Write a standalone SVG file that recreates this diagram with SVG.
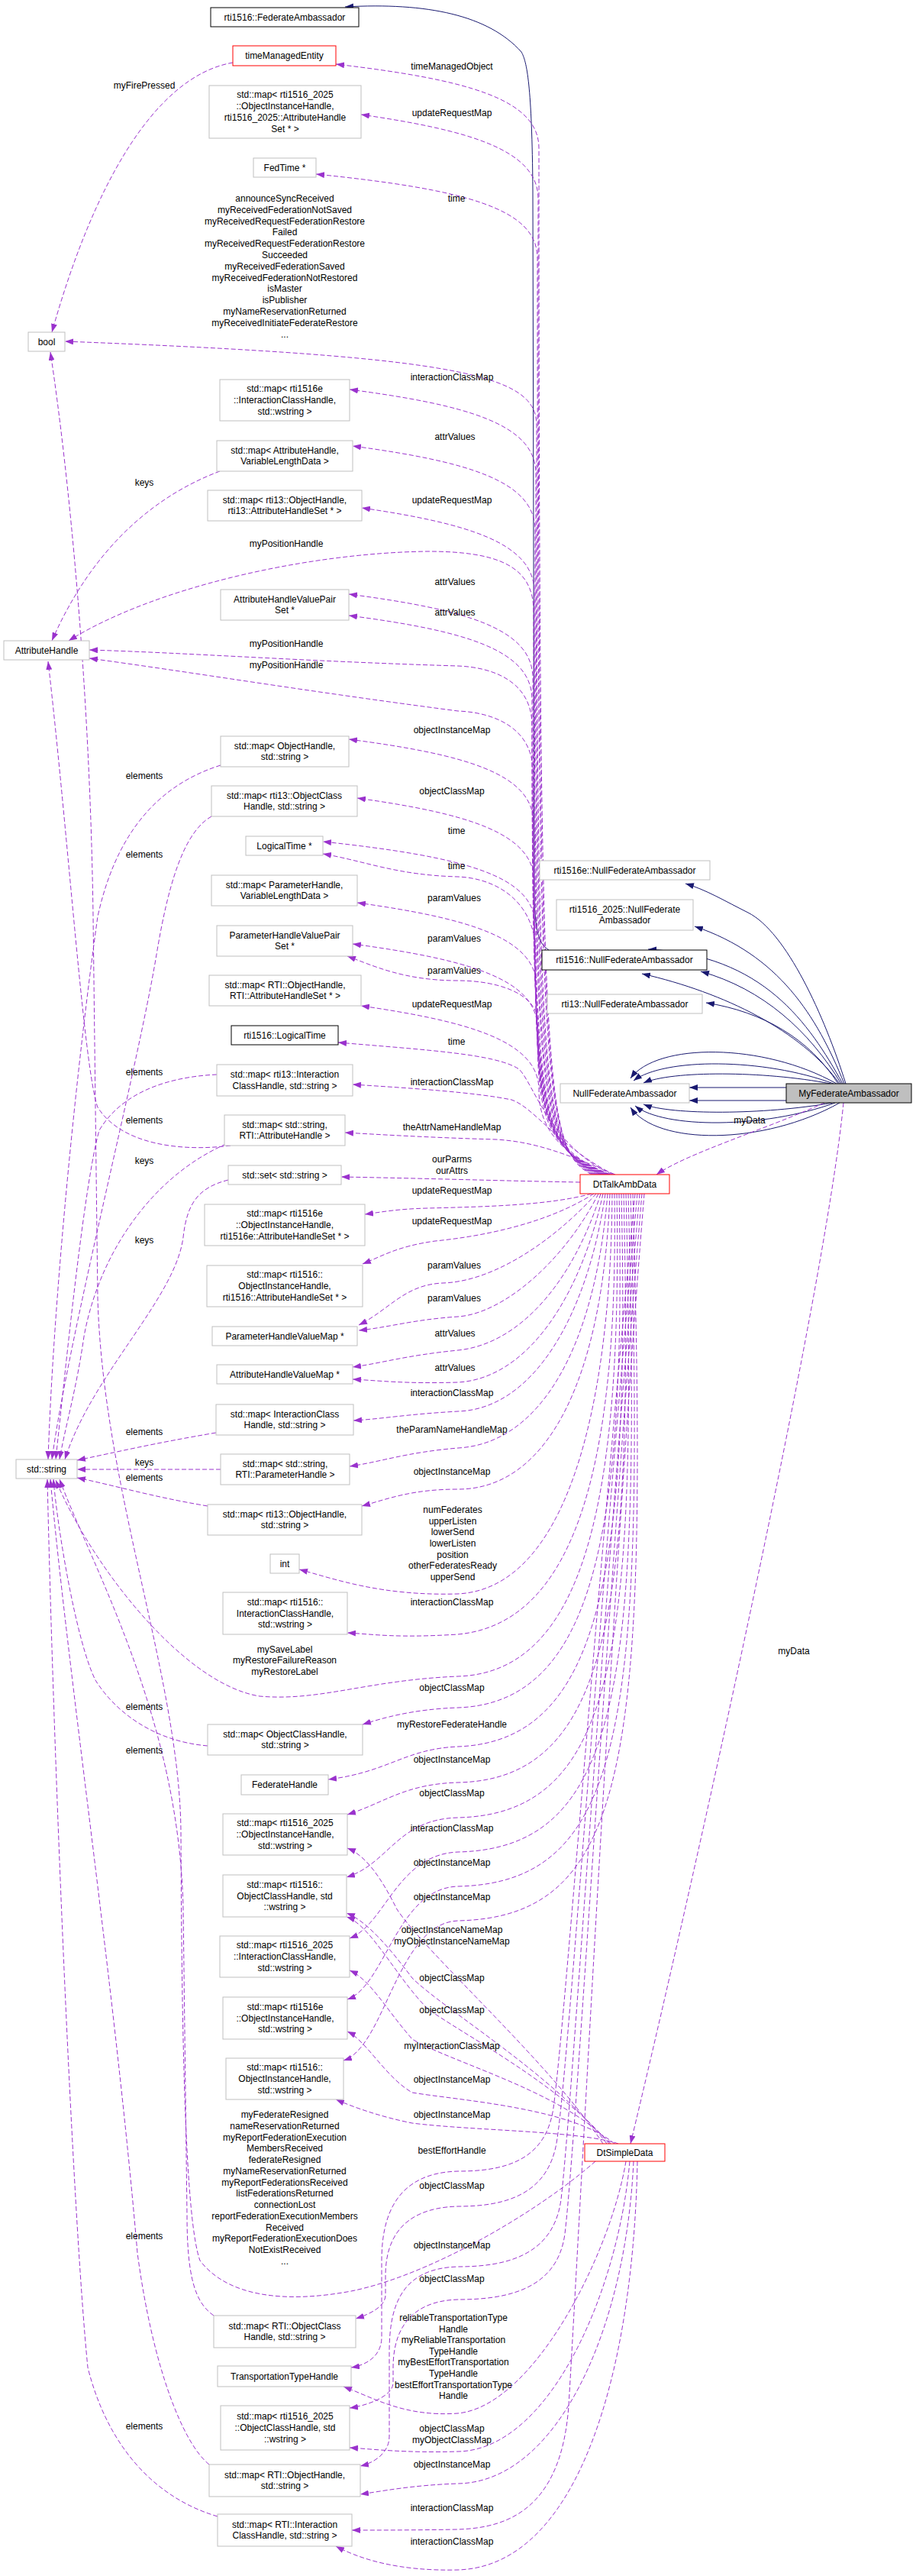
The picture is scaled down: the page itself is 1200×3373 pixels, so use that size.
<svg xmlns="http://www.w3.org/2000/svg" width="1200" height="3373" viewBox="0 0 1200 3373">
<style>
text{font-family:"Liberation Sans",Arial,sans-serif;font-size:12px;fill:#000;text-anchor:middle}
.b{fill:#fff;stroke:#bfbfbf;stroke-width:1}
.k{fill:#fff;stroke:#000;stroke-width:1}
.r{fill:#fff;stroke:#ff0000;stroke-width:1}
.g{fill:#bfbfbf;stroke:#000;stroke-width:1}
.u{fill:none;stroke:#9a32cd;stroke-width:1;stroke-dasharray:6,3;marker-end:url(#ap)}
.i{fill:none;stroke:#191970;stroke-width:1;marker-end:url(#an)}
</style>
<defs>
<marker id="ap" viewBox="0 0 11 8" refX="11" refY="4" markerWidth="11" markerHeight="8" markerUnits="userSpaceOnUse" orient="auto"><path d="M0,0 L11,4 L0,8 z" fill="#9a32cd"/></marker>
<marker id="an" viewBox="0 0 11 8" refX="11" refY="4" markerWidth="11" markerHeight="8" markerUnits="userSpaceOnUse" orient="auto"><path d="M0,0 L11,4 L0,8 z" fill="#191970"/></marker>
</defs>
<rect width="1200" height="3373" fill="#fff"/>
<g id="connectors">
<path class="i" d="M719 1244 C705 1235 702 1220 700 1180 L698 250 C697 110 690 80 683 68 C640 20 560 3 452 9"/>
<path class="i" d="M1108 1419 C1080 1330 1030 1220 980 1195 C950 1180 925 1165 898 1157"/>
<path class="i" d="M1106 1419 C1070 1330 1020 1250 910 1213"/>
<path class="i" d="M1104 1419 C1060 1340 1000 1250 849 1243"/>
<path class="i" d="M1102 1419 C1060 1350 1000 1295 918 1272"/>
<path class="i" d="M1100 1419 C1050 1350 950 1300 841 1275"/>
<path class="i" d="M1098 1419 C1060 1360 1000 1325 925 1313"/>
<path class="i" d="M1096 1419 C1000 1365 860 1365 826 1412"/>
<path class="i" d="M1092 1419 C1000 1385 870 1385 830 1415"/>
<path class="i" d="M1088 1419 C1000 1402 880 1402 843 1418"/>
<path class="i" d="M1030 1424 L903 1424"/>
<path class="i" d="M1030 1441 L903 1441"/>
<path class="i" d="M1090 1444 C1000 1460 880 1460 843 1446"/>
<path class="i" d="M1094 1444 C1000 1478 870 1478 832 1448"/>
<path class="i" d="M1100 1444 C1000 1500 860 1500 826 1450"/>
<path class="u" d="M1080 1444 C1000 1480 900 1510 860 1538"/>
<path class="u" d="M1105 1444 C1080 1700 900 2500 826 2807"/>
<path class="u" d="M305 82 C200 100 120 250 68 435"/>
<path class="u" d="M775 1538 C716 1505 706 1460 706 194 C706 129 610 104 440 84"/>
<path class="u" d="M777 1538 C715 1505 705 1460 705 260 C705 195 610 170 473 150"/>
<path class="u" d="M779 1538 C714 1505 704 1460 704 338 C704 273 610 248 414 228"/>
<path class="u" d="M781 1538 C713 1505 703 1460 703 557 C703 492 610 467 85 447"/>
<path class="u" d="M783 1538 C712 1505 702 1460 702 620 C702 555 610 530 458 510"/>
<path class="u" d="M785 1538 C711 1505 701 1460 701 694 C701 629 610 604 462 584"/>
<path class="u" d="M787 1538 C710 1505 700 1460 700 775 C700 710 610 685 474 665"/>
<path class="u" d="M788 1538 C709 1505 699 1460 699 800 C699 740 650 722 560 722 C400 724 200 770 90 839"/>
<path class="u" d="M789 1538 C708 1505 698 1460 698 888 C698 823 610 798 457 778"/>
<path class="u" d="M790 1538 C707 1505 697 1460 697 916 C697 851 610 826 457 806"/>
<path class="u" d="M791 1538 C707 1505 697 1460 697 950 C697 895 650 874 600 872 C400 866 250 855 117 851"/>
<path class="u" d="M792 1538 C708 1505 698 1460 698 1010 C698 955 650 933 600 931 C400 905 250 880 117 862"/>
<path class="u" d="M793 1538 C709 1505 699 1460 699 1078 C699 1013 610 988 457 968"/>
<path class="u" d="M794 1538 C710 1505 700 1460 700 1155 C700 1090 610 1065 468 1045"/>
<path class="u" d="M795 1538 C711 1505 701 1460 701 1212 C701 1147 610 1122 423 1102"/>
<path class="u" d="M796 1538 C712 1505 702 1460 702 1250 C702 1180 650 1150 600 1148 C520 1146 480 1128 423 1118"/>
<path class="u" d="M797 1538 C713 1505 703 1460 703 1292 C703 1227 610 1202 468 1182"/>
<path class="u" d="M798 1538 C714 1505 704 1460 704 1346 C704 1281 610 1256 462 1236"/>
<path class="u" d="M799 1538 C715 1505 705 1450 705 1340 C705 1300 650 1284 600 1284 C530 1284 490 1265 455 1252"/>
<path class="u" d="M800 1538 C716 1505 706 1460 706 1427 C706 1362 610 1337 473 1317"/>
<path class="u" d="M802 1538 C720 1500 700 1420 680 1400 C650 1380 560 1375 443 1365"/>
<path class="u" d="M804 1538 C730 1500 700 1450 670 1440 C620 1430 540 1425 462 1420"/>
<path class="u" d="M806 1538 C740 1510 700 1495 650 1492 C580 1490 520 1487 452 1483"/>
<path class="u" d="M760 1548 C650 1546 560 1543 447 1541"/>
<path class="u" d="M775 1563 C720 1578 640 1580 560 1582 C520 1583 500 1587 478 1590"/>
<path class="u" d="M778 1563 C720 1600 640 1618 570 1625 C520 1632 500 1645 475 1655"/>
<path class="u" d="M781 1563 C730 1620 650 1678 580 1680 C530 1682 510 1715 470 1735"/>
<path class="u" d="M784 1563 C740 1650 660 1720 600 1724 C540 1728 510 1738 470 1742"/>
<path class="u" d="M787 1563 C750 1680 680 1760 600 1768 C530 1775 500 1785 462 1790"/>
<path class="u" d="M790 1563 C760 1700 690 1805 600 1810 C530 1812 500 1808 462 1806"/>
<path class="u" d="M793 1563 C770 1720 700 1845 600 1848 C530 1852 500 1858 463 1860"/>
<path class="u" d="M796 1563 C780 1760 710 1890 600 1896 C530 1902 500 1914 458 1920"/>
<path class="u" d="M799 1563 C790 1800 720 1950 600 1950 C540 1950 510 1962 474 1972"/>
<path class="u" d="M802 1563 C800 1850 740 2080 600 2087 C500 2090 440 2068 392 2055"/>
<path class="u" d="M805 1563 C810 1900 760 2125 600 2140 C520 2145 490 2140 455 2138"/>
<path class="u" d="M808 1563 C815 1950 770 2190 600 2195 C480 2200 420 2228 340 2221 C240 2205 120 2050 73 1938"/>
<path class="u" d="M811 1563 C820 2000 780 2230 600 2236 C540 2238 500 2250 475 2258"/>
<path class="u" d="M814 1563 C825 2050 790 2280 600 2287 C530 2290 510 2320 430 2330"/>
<path class="u" d="M817 1563 C830 2100 800 2330 600 2334 C530 2336 505 2360 455 2376"/>
<path class="u" d="M820 1563 C835 2150 810 2375 600 2380 C520 2382 510 2440 454 2458"/>
<path class="u" d="M823 1563 C840 2200 815 2420 600 2425 C520 2428 505 2520 458 2538"/>
<path class="u" d="M826 1563 C845 2250 820 2465 600 2470 C520 2472 505 2600 455 2618"/>
<path class="u" d="M829 1563 C850 2300 825 2510 600 2515 C520 2518 505 2680 450 2698"/>
<path class="u" d="M832 1563 C780 2100 740 2650 725 2760 C715 2830 660 2843 600 2843 C520 2845 500 2900 500 2960 L500 3060 C500 3085 480 3097 460 3100"/>
<path class="u" d="M835 1563 C785 2100 745 2700 730 2800 C720 2875 660 2889 600 2889 C520 2891 505 2940 505 2980 L505 3005 C505 3020 485 3030 466 3036"/>
<path class="u" d="M838 1563 C790 2100 750 2750 735 2880 C725 2955 660 2968 600 2968 C525 2970 510 3020 510 3080 L510 3190 C510 3212 490 3225 472 3229"/>
<path class="u" d="M841 1563 C795 2100 755 2800 740 2925 C730 3000 660 3011 600 3011 C530 3013 515 3060 515 3100 L515 3120 C515 3138 480 3150 458 3153"/>
<path class="u" d="M844 1563 C800 2100 760 2900 745 3150 C735 3290 660 3310 600 3312 C540 3313 500 3313 461 3313"/>
<path class="u" d="M790 2807 C720 2700 560 2560 520 2500 C500 2460 480 2430 455 2420"/>
<path class="u" d="M795 2807 C730 2720 580 2630 540 2590 C510 2550 480 2515 454 2505"/>
<path class="u" d="M798 2807 C735 2730 600 2660 560 2630 C520 2590 485 2520 454 2510"/>
<path class="u" d="M800 2807 C740 2740 590 2700 540 2670 C505 2630 485 2592 458 2580"/>
<path class="u" d="M805 2807 C750 2760 600 2750 540 2740 C505 2720 480 2672 455 2660"/>
<path class="u" d="M810 2807 C760 2790 620 2790 540 2780 C500 2772 465 2760 440 2749"/>
<path class="u" d="M820 2830 C800 2950 700 3150 600 3160 C530 3165 490 3140 450 3125"/>
<path class="u" d="M825 2830 C810 3000 720 3208 600 3210 C530 3212 490 3207 458 3205"/>
<path class="u" d="M830 2830 C820 3050 730 3250 600 3252 C540 3254 500 3262 472 3266"/>
<path class="u" d="M835 2830 C830 3100 760 3360 600 3365 C520 3367 470 3350 440 3334"/>
<path class="u" d="M780 2830 C700 2900 560 2980 460 3000 C380 3015 300 3010 262 2960 C240 2900 238 2600 237 2400 C236 2200 135 1950 128 1700 L122 1200 C118 900 90 620 66 461"/>
<path class="u" d="M288 617 C200 650 120 720 68 839"/>
<path class="u" d="M302 1500 C240 1508 160 1500 128 1450 C110 1400 90 1100 63 866"/>
<path class="u" d="M289 1002 C200 1030 150 1100 128 1200 C100 1400 70 1700 63 1911"/>
<path class="u" d="M277 1069 C240 1090 220 1160 205 1250 C180 1400 90 1750 68 1911"/>
<path class="u" d="M284 1407 C220 1410 160 1430 130 1480 C110 1550 85 1800 73 1911"/>
<path class="u" d="M296 1498 C200 1540 130 1640 110 1750 C100 1820 85 1870 78 1911"/>
<path class="u" d="M299 1545 C260 1555 245 1575 240 1620 C230 1700 120 1800 85 1911"/>
<path class="u" d="M283 1876 C200 1890 150 1902 101 1912"/>
<path class="u" d="M289 1924 L101 1924"/>
<path class="u" d="M272 1972 C200 1960 150 1945 101 1935"/>
<path class="u" d="M272 2286 C200 2280 150 2240 125 2200 C100 2150 75 2000 70 1937"/>
<path class="u" d="M280 3032 C255 3015 245 2980 245 2900 L240 2500 C235 2250 120 2050 78 1937"/>
<path class="u" d="M274 3227 C240 3200 200 3100 180 2950 C150 2600 90 2200 66 1937"/>
<path class="u" d="M285 3295 C200 3270 140 3200 115 3100 C95 2900 70 2300 62 1937"/>
</g>
<g id="edge-labels">
<text x="189" y="116">myFirePressed</text>
<text x="592" y="91">timeManagedObject</text>
<text x="592" y="152">updateRequestMap</text>
<text x="598" y="264">time</text>
<text x="373" y="264">announceSyncReceived</text>
<text x="373" y="279">myReceivedFederationNotSaved</text>
<text x="373" y="294">myReceivedRequestFederationRestore</text>
<text x="373" y="308">Failed</text>
<text x="373" y="323">myReceivedRequestFederationRestore</text>
<text x="373" y="338">Succeeded</text>
<text x="373" y="353">myReceivedFederationSaved</text>
<text x="373" y="368">myReceivedFederationNotRestored</text>
<text x="373" y="382">isMaster</text>
<text x="373" y="397">isPublisher</text>
<text x="373" y="412">myNameReservationReturned</text>
<text x="373" y="427">myReceivedInitiateFederateRestore</text>
<text x="373" y="442">...</text>
<text x="592" y="498">interactionClassMap</text>
<text x="596" y="576">attrValues</text>
<text x="189" y="636">keys</text>
<text x="592" y="659">updateRequestMap</text>
<text x="375" y="716">myPositionHandle</text>
<text x="596" y="766">attrValues</text>
<text x="596" y="806">attrValues</text>
<text x="375" y="847">myPositionHandle</text>
<text x="375" y="875">myPositionHandle</text>
<text x="592" y="960">objectInstanceMap</text>
<text x="189" y="1020">elements</text>
<text x="592" y="1040">objectClassMap</text>
<text x="598" y="1092">time</text>
<text x="189" y="1123">elements</text>
<text x="598" y="1138">time</text>
<text x="595" y="1180">paramValues</text>
<text x="595" y="1233">paramValues</text>
<text x="595" y="1275">paramValues</text>
<text x="592" y="1319">updateRequestMap</text>
<text x="598" y="1368">time</text>
<text x="189" y="1408">elements</text>
<text x="592" y="1421">interactionClassMap</text>
<text x="189" y="1471">elements</text>
<text x="592" y="1480">theAttrNameHandleMap</text>
<text x="189" y="1524">keys</text>
<text x="592" y="1522">ourParms</text>
<text x="592" y="1537">ourAttrs</text>
<text x="592" y="1563">updateRequestMap</text>
<text x="592" y="1603">updateRequestMap</text>
<text x="189" y="1628">keys</text>
<text x="595" y="1661">paramValues</text>
<text x="595" y="1704">paramValues</text>
<text x="596" y="1750">attrValues</text>
<text x="596" y="1795">attrValues</text>
<text x="592" y="1828">interactionClassMap</text>
<text x="189" y="1879">elements</text>
<text x="592" y="1876">theParamNameHandleMap</text>
<text x="189" y="1919">keys</text>
<text x="189" y="1939">elements</text>
<text x="592" y="1931">objectInstanceMap</text>
<text x="593" y="1981">numFederates</text>
<text x="593" y="1996">upperListen</text>
<text x="593" y="2010">lowerSend</text>
<text x="593" y="2025">lowerListen</text>
<text x="593" y="2040">position</text>
<text x="593" y="2054">otherFederatesReady</text>
<text x="593" y="2069">upperSend</text>
<text x="592" y="2102">interactionClassMap</text>
<text x="373" y="2164">mySaveLabel</text>
<text x="373" y="2178">myRestoreFailureReason</text>
<text x="373" y="2193">myRestoreLabel</text>
<text x="592" y="2214">objectClassMap</text>
<text x="189" y="2239">elements</text>
<text x="592" y="2262">myRestoreFederateHandle</text>
<text x="189" y="2296">elements</text>
<text x="592" y="2308">objectInstanceMap</text>
<text x="592" y="2352">objectClassMap</text>
<text x="592" y="2398">interactionClassMap</text>
<text x="592" y="2443">objectInstanceMap</text>
<text x="592" y="2488">objectInstanceMap</text>
<text x="592" y="2531">objectInstanceNameMap</text>
<text x="592" y="2546">myObjectInstanceNameMap</text>
<text x="592" y="2594">objectClassMap</text>
<text x="592" y="2636">objectClassMap</text>
<text x="592" y="2683">myInteractionClassMap</text>
<text x="592" y="2727">objectInstanceMap</text>
<text x="592" y="2773">objectInstanceMap</text>
<text x="373" y="2773">myFederateResigned</text>
<text x="373" y="2788">nameReservationReturned</text>
<text x="373" y="2803">myReportFederationExecution</text>
<text x="373" y="2817">MembersReceived</text>
<text x="373" y="2832">federateResigned</text>
<text x="373" y="2847">myNameReservationReturned</text>
<text x="373" y="2862">myReportFederationsReceived</text>
<text x="373" y="2876">listFederationsReturned</text>
<text x="373" y="2891">connectionLost</text>
<text x="373" y="2906">reportFederationExecutionMembers</text>
<text x="373" y="2921">Received</text>
<text x="373" y="2935">myReportFederationExecutionDoes</text>
<text x="373" y="2950">NotExistReceived</text>
<text x="373" y="2965">...</text>
<text x="592" y="2820">bestEffortHandle</text>
<text x="592" y="2866">objectClassMap</text>
<text x="189" y="2932">elements</text>
<text x="592" y="2944">objectInstanceMap</text>
<text x="592" y="2988">objectClassMap</text>
<text x="594" y="3039">reliableTransportationType</text>
<text x="594" y="3054">Handle</text>
<text x="594" y="3068">myReliableTransportation</text>
<text x="594" y="3083">TypeHandle</text>
<text x="594" y="3097">myBestEffortTransportation</text>
<text x="594" y="3112">TypeHandle</text>
<text x="594" y="3127">bestEffortTransportationType</text>
<text x="594" y="3141">Handle</text>
<text x="189" y="3181">elements</text>
<text x="592" y="3184">objectClassMap</text>
<text x="592" y="3199">myObjectClassMap</text>
<text x="592" y="3231">objectInstanceMap</text>
<text x="592" y="3288">interactionClassMap</text>
<text x="592" y="3332">interactionClassMap</text>
<text x="982" y="1471">myData</text>
<text x="1040" y="2166">myData</text>
</g>
<g id="n1"><rect class="k" x="276" y="10" width="194" height="25"/><text x="373" y="26.5">rti1516::FederateAmbassador</text></g>
<g id="n2"><rect class="r" x="305" y="60" width="135" height="26"/><text x="372.5" y="77">timeManagedEntity</text></g>
<g id="n3"><rect class="b" x="274" y="112" width="199" height="69"/><text x="373.5" y="128.3">std::map&lt; rti1516_2025</text><text x="373.5" y="143.1">::ObjectInstanceHandle,</text><text x="373.5" y="157.9">rti1516_2025::AttributeHandle</text><text x="373.5" y="172.7">Set * &gt;</text></g>
<g id="n4"><rect class="b" x="332" y="207" width="82" height="25"/><text x="373" y="223.5">FedTime *</text></g>
<g id="n5"><rect class="b" x="37" y="435" width="48" height="25"/><text x="61" y="451.5">bool</text></g>
<g id="n6"><rect class="b" x="288" y="497" width="170" height="54"/><text x="373" y="513.2">std::map&lt; rti1516e</text><text x="373" y="528">::InteractionClassHandle,</text><text x="373" y="542.8">std::wstring &gt;</text></g>
<g id="n7"><rect class="b" x="284" y="577" width="178" height="40"/><text x="373" y="593.6">std::map&lt; AttributeHandle,</text><text x="373" y="608.4">VariableLengthData &gt;</text></g>
<g id="n8"><rect class="b" x="272" y="642" width="202" height="40"/><text x="373" y="658.6">std::map&lt; rti13::ObjectHandle,</text><text x="373" y="673.4">rti13::AttributeHandleSet * &gt;</text></g>
<g id="n9"><rect class="b" x="289" y="772" width="168" height="40"/><text x="373" y="788.6">AttributeHandleValuePair</text><text x="373" y="803.4">Set *</text></g>
<g id="n10"><rect class="b" x="5" y="839" width="112" height="25"/><text x="61" y="855.5">AttributeHandle</text></g>
<g id="n11"><rect class="b" x="289" y="964" width="168" height="40"/><text x="373" y="980.6">std::map&lt; ObjectHandle,</text><text x="373" y="995.4">std::string &gt;</text></g>
<g id="n12"><rect class="b" x="277" y="1029" width="191" height="40"/><text x="372.5" y="1045.6">std::map&lt; rti13::ObjectClass</text><text x="372.5" y="1060.4">Handle, std::string &gt;</text></g>
<g id="n13"><rect class="b" x="322" y="1095" width="101" height="25"/><text x="372.5" y="1111.5">LogicalTime *</text></g>
<g id="n14"><rect class="b" x="277" y="1146" width="191" height="40"/><text x="372.5" y="1162.6">std::map&lt; ParameterHandle,</text><text x="372.5" y="1177.4">VariableLengthData &gt;</text></g>
<g id="n15"><rect class="b" x="284" y="1212" width="178" height="40"/><text x="373" y="1228.6">ParameterHandleValuePair</text><text x="373" y="1243.4">Set *</text></g>
<g id="n16"><rect class="b" x="274" y="1277" width="199" height="40"/><text x="373.5" y="1293.6">std::map&lt; RTI::ObjectHandle,</text><text x="373.5" y="1308.4">RTI::AttributeHandleSet * &gt;</text></g>
<g id="n17"><rect class="k" x="303" y="1343" width="140" height="25"/><text x="373" y="1359.5">rti1516::LogicalTime</text></g>
<g id="n18"><rect class="b" x="284" y="1394" width="178" height="41"/><text x="373" y="1411.1">std::map&lt; rti13::Interaction</text><text x="373" y="1425.9">ClassHandle, std::string &gt;</text></g>
<g id="n19"><rect class="b" x="294" y="1460" width="158" height="40"/><text x="373" y="1476.6">std::map&lt; std::string,</text><text x="373" y="1491.4">RTI::AttributeHandle &gt;</text></g>
<g id="n20"><rect class="b" x="299" y="1526" width="148" height="25"/><text x="373" y="1542.5">std::set&lt; std::string &gt;</text></g>
<g id="n21"><rect class="b" x="268" y="1577" width="210" height="54"/><text x="373" y="1593.2">std::map&lt; rti1516e</text><text x="373" y="1608">::ObjectInstanceHandle,</text><text x="373" y="1622.8">rti1516e::AttributeHandleSet * &gt;</text></g>
<g id="n22"><rect class="b" x="271" y="1657" width="204" height="54"/><text x="373" y="1673.2">std::map&lt; rti1516::</text><text x="373" y="1688">ObjectInstanceHandle,</text><text x="373" y="1702.8">rti1516::AttributeHandleSet * &gt;</text></g>
<g id="n23"><rect class="b" x="278" y="1737" width="190" height="25"/><text x="373" y="1753.5">ParameterHandleValueMap *</text></g>
<g id="n24"><rect class="b" x="284" y="1787" width="178" height="25"/><text x="373" y="1803.5">AttributeHandleValueMap *</text></g>
<g id="n25"><rect class="b" x="283" y="1839" width="180" height="40"/><text x="373" y="1855.6">std::map&lt; InteractionClass</text><text x="373" y="1870.4">Handle, std::string &gt;</text></g>
<g id="n26"><rect class="b" x="21" y="1911" width="80" height="25"/><text x="61" y="1927.5">std::string</text></g>
<g id="n27"><rect class="b" x="289" y="1904" width="169" height="40"/><text x="373.5" y="1920.6">std::map&lt; std::string,</text><text x="373.5" y="1935.4">RTI::ParameterHandle &gt;</text></g>
<g id="n28"><rect class="b" x="272" y="1970" width="202" height="40"/><text x="373" y="1986.6">std::map&lt; rti13::ObjectHandle,</text><text x="373" y="2001.4">std::string &gt;</text></g>
<g id="n29"><rect class="b" x="354" y="2035" width="38" height="25"/><text x="373" y="2051.5">int</text></g>
<g id="n30"><rect class="b" x="292" y="2085" width="163" height="55"/><text x="373.5" y="2101.7">std::map&lt; rti1516::</text><text x="373.5" y="2116.5">InteractionClassHandle,</text><text x="373.5" y="2131.3">std::wstring &gt;</text></g>
<g id="n31"><rect class="b" x="272" y="2258" width="203" height="40"/><text x="373.5" y="2274.6">std::map&lt; ObjectClassHandle,</text><text x="373.5" y="2289.4">std::string &gt;</text></g>
<g id="n32"><rect class="b" x="316" y="2324" width="114" height="26"/><text x="373" y="2341">FederateHandle</text></g>
<g id="n33"><rect class="b" x="292" y="2375" width="163" height="54"/><text x="373.5" y="2391.2">std::map&lt; rti1516_2025</text><text x="373.5" y="2406">::ObjectInstanceHandle,</text><text x="373.5" y="2420.8">std::wstring &gt;</text></g>
<g id="n34"><rect class="b" x="292" y="2455" width="162" height="55"/><text x="373" y="2471.7">std::map&lt; rti1516::</text><text x="373" y="2486.5">ObjectClassHandle, std</text><text x="373" y="2501.3">::wstring &gt;</text></g>
<g id="n35"><rect class="b" x="288" y="2535" width="170" height="54"/><text x="373" y="2551.2">std::map&lt; rti1516_2025</text><text x="373" y="2566">::InteractionClassHandle,</text><text x="373" y="2580.8">std::wstring &gt;</text></g>
<g id="n36"><rect class="b" x="292" y="2615" width="163" height="55"/><text x="373.5" y="2631.7">std::map&lt; rti1516e</text><text x="373.5" y="2646.5">::ObjectInstanceHandle,</text><text x="373.5" y="2661.3">std::wstring &gt;</text></g>
<g id="n37"><rect class="b" x="296" y="2695" width="154" height="54"/><text x="373" y="2711.2">std::map&lt; rti1516::</text><text x="373" y="2726">ObjectInstanceHandle,</text><text x="373" y="2740.8">std::wstring &gt;</text></g>
<g id="n38"><rect class="b" x="280" y="3032" width="186" height="42"/><text x="373" y="3049.6">std::map&lt; RTI::ObjectClass</text><text x="373" y="3064.4">Handle, std::string &gt;</text></g>
<g id="n39"><rect class="b" x="285" y="3098" width="175" height="27"/><text x="372.5" y="3115.5">TransportationTypeHandle</text></g>
<g id="n40"><rect class="b" x="289" y="3150" width="169" height="58"/><text x="373.5" y="3168.2">std::map&lt; rti1516_2025</text><text x="373.5" y="3183">::ObjectClassHandle, std</text><text x="373.5" y="3197.8">::wstring &gt;</text></g>
<g id="n41"><rect class="b" x="274" y="3227" width="198" height="42"/><text x="373" y="3244.6">std::map&lt; RTI::ObjectHandle,</text><text x="373" y="3259.4">std::string &gt;</text></g>
<g id="n42"><rect class="b" x="285" y="3292" width="176" height="42"/><text x="373" y="3309.6">std::map&lt; RTI::Interaction</text><text x="373" y="3324.4">ClassHandle, std::string &gt;</text></g>
<g id="n43"><rect class="b" x="707" y="1127" width="223" height="25"/><text x="818.5" y="1143.5">rti1516e::NullFederateAmbassador</text></g>
<g id="n44"><rect class="b" x="729" y="1178" width="179" height="40"/><text x="818.5" y="1194.6">rti1516_2025::NullFederate</text><text x="818.5" y="1209.4">Ambassador</text></g>
<g id="n45"><rect class="k" x="710" y="1244" width="216" height="26"/><text x="818" y="1261">rti1516::NullFederateAmbassador</text></g>
<g id="n46"><rect class="b" x="717" y="1302" width="203" height="25"/><text x="818.5" y="1318.5">rti13::NullFederateAmbassador</text></g>
<g id="n47"><rect class="b" x="734" y="1419" width="169" height="25"/><text x="818.5" y="1435.5">NullFederateAmbassador</text></g>
<g id="n48"><rect class="g" x="1030" y="1419" width="164" height="25"/><text x="1112" y="1435.5">MyFederateAmbassador</text></g>
<g id="n49"><rect class="r" x="760" y="1538" width="117" height="25"/><text x="818.5" y="1554.5">DtTalkAmbData</text></g>
<g id="n50"><rect class="r" x="766" y="2807" width="105" height="23"/><text x="818.5" y="2822.5">DtSimpleData</text></g>
</svg>
